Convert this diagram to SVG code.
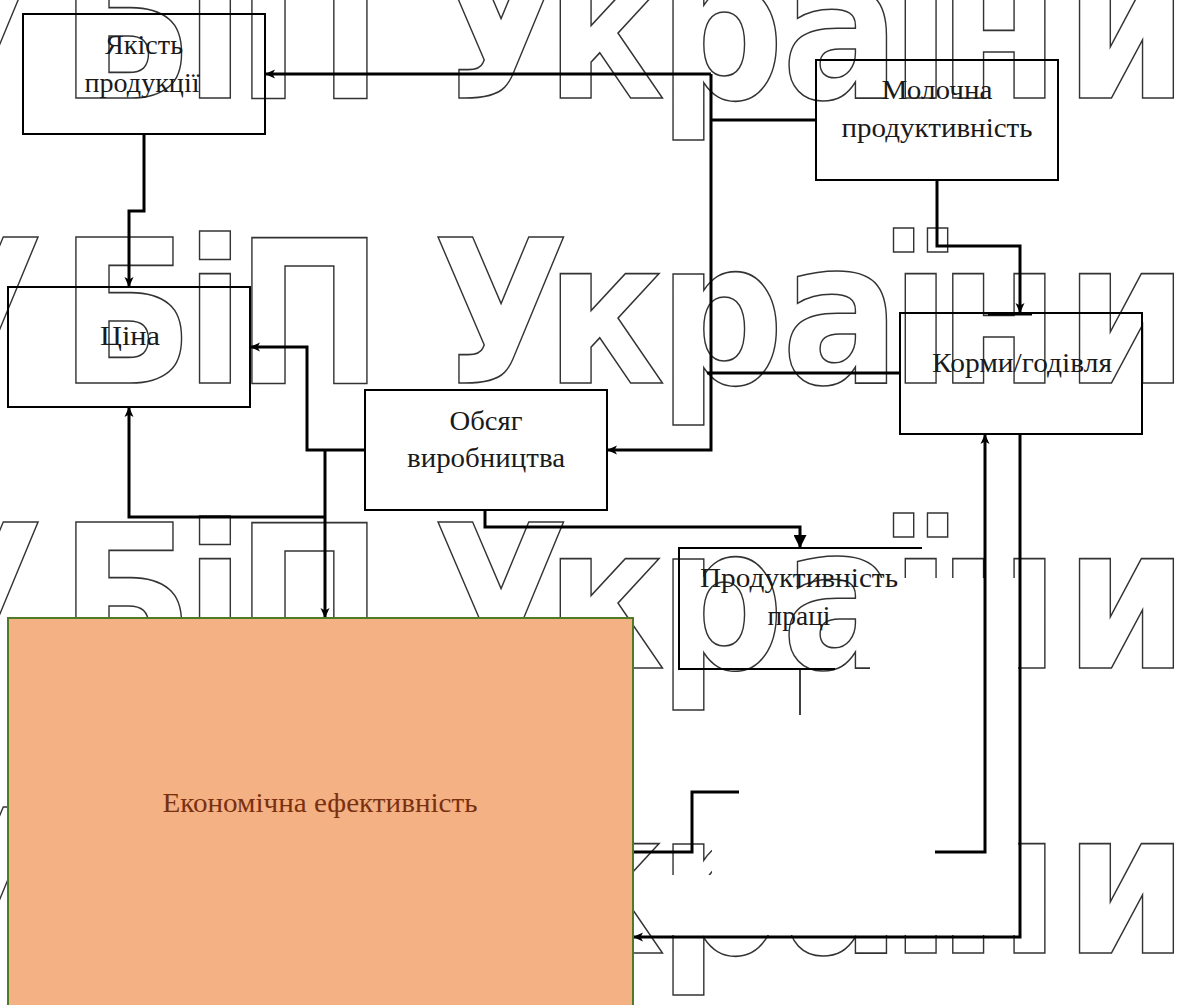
<svg xmlns="http://www.w3.org/2000/svg" width="1189" height="1005" viewBox="0 0 1189 1005">
<style>
.wm{font-family:"DejaVu Sans","Liberation Sans",sans-serif;font-weight:bold;font-size:200px;fill:none;stroke:#333;stroke-width:1.6}
.box{fill:none;stroke:#000;stroke-width:2}
.lbl{font-family:"Liberation Serif","Times New Roman",serif;font-size:28px;fill:#1a1a1a;text-anchor:middle}
.con{fill:none;stroke:#000;stroke-width:3}
.thin{fill:none;stroke:#000;stroke-width:1.5}
</style>
<defs>
<marker id="ah" viewBox="0 0 10 10" refX="10" refY="5" markerWidth="11" markerHeight="10" markerUnits="userSpaceOnUse" orient="auto"><path d="M0,0.5 L10,5 L0,9.5 L2.5,5 z" fill="#000"/></marker>
<marker id="ahb" viewBox="0 0 10 10" refX="10" refY="5" markerWidth="14" markerHeight="13" markerUnits="userSpaceOnUse" orient="auto"><path d="M0,0 L10,5 L0,10 z" fill="#000"/></marker>
</defs>
<rect width="1189" height="1005" fill="#fff"/>
<g id="watermark" transform="scale(0.88 1)">
<text class="wm" x="-105 68 210 268 410 492 620 748 888 1012 1066 1210" y="98">УБіП України</text>
<text class="wm" x="-105 68 210 268 410 492 620 748 888 1012 1066 1210" y="383">УБіП України</text>
<text class="wm" x="-105 68 210 268 410 492 620 748 888 1012 1066 1210" y="668">УБіП України</text>
<text class="wm" x="-105 68 210 268 410 492 620 748 888 1012 1066 1210" y="953">УБіП України</text>
</g>
<polygon points="870,578 1018,578 1018,935 660,935 660,875 712,875 712,672 870,672" fill="#fff"/>
<g id="connectors">
<path class="con" d="M816,120 H711"/>
<path class="con" d="M711,74 H265" marker-end="url(#ah)"/>
<path class="con" d="M711,74 V450 H607" marker-end="url(#ah)"/>
<path class="con" d="M900,373 H707"/>
<path class="con" d="M144,134 V211 H129 V287" marker-end="url(#ah)"/>
<path class="con" d="M937,180 V246 H1020 V313" marker-end="url(#ah)"/>
<path class="con" d="M988,314 H1032" stroke-width="4"/>
<path class="con" d="M365,450 H307 V347 H250" marker-end="url(#ah)"/>
<path class="con" d="M325,450 V618" marker-end="url(#ah)"/>
<path class="con" d="M325,517 H129 V407" marker-end="url(#ah)"/>
<path class="con" d="M485,510 V527 H800 V548" stroke-width="2.5" marker-end="url(#ahb)"/>
<path class="thin" d="M800,669 V715"/>
<path class="con" d="M739,792 H692 V852 H633" stroke-width="2.5"/>
<path class="con" d="M935,852 H985 V434" marker-end="url(#ah)"/>
<path class="con" d="M1020,434 V937 H633" marker-end="url(#ah)"/>
</g>
<g id="node-quality">
<rect class="box" x="23" y="14" width="242" height="120"/>
<text class="lbl" x="144" y="54" textLength="78" lengthAdjust="spacingAndGlyphs">Якість</text>
<text class="lbl" x="142" y="92" textLength="115" lengthAdjust="spacingAndGlyphs">продукції</text>
</g>
<g id="node-milk">
<rect class="box" x="816" y="60" width="242" height="120"/>
<text class="lbl" x="937" y="99" textLength="111" lengthAdjust="spacingAndGlyphs">Молочна</text>
<text class="lbl" x="937" y="137" textLength="191" lengthAdjust="spacingAndGlyphs">продуктивність</text>
</g>
<g id="node-price">
<rect class="box" x="8" y="287" width="242" height="120"/>
<text class="lbl" x="130" y="345" textLength="60" lengthAdjust="spacingAndGlyphs">Ціна</text>
</g>
<g id="node-volume">
<rect class="box" x="365" y="390" width="242" height="120"/>
<text class="lbl" x="486" y="430" textLength="73" lengthAdjust="spacingAndGlyphs">Обсяг</text>
<text class="lbl" x="486" y="467" textLength="158" lengthAdjust="spacingAndGlyphs">виробництва</text>
</g>
<g id="node-feed">
<rect class="box" x="900" y="313" width="242" height="121"/>
<text class="lbl" x="1022" y="372" textLength="180" lengthAdjust="spacingAndGlyphs">Корми/годівля</text>
</g>
<g id="node-labour">
<path class="box" d="M922,548 H679 V669 H835"/>
<text class="lbl" x="799" y="587" textLength="198" lengthAdjust="spacingAndGlyphs">Продуктивність</text>
<text class="lbl" x="799" y="625" textLength="63" lengthAdjust="spacingAndGlyphs">праці</text>
</g>
<g id="node-efficiency">
<rect x="8" y="618" width="625" height="392" fill="#F4B183" stroke="#4F7A28" stroke-width="2"/>
<text class="lbl" x="320" y="812" textLength="315" lengthAdjust="spacingAndGlyphs" style="fill:#7A3010">Економічна ефективність</text>
</g>
</svg>
